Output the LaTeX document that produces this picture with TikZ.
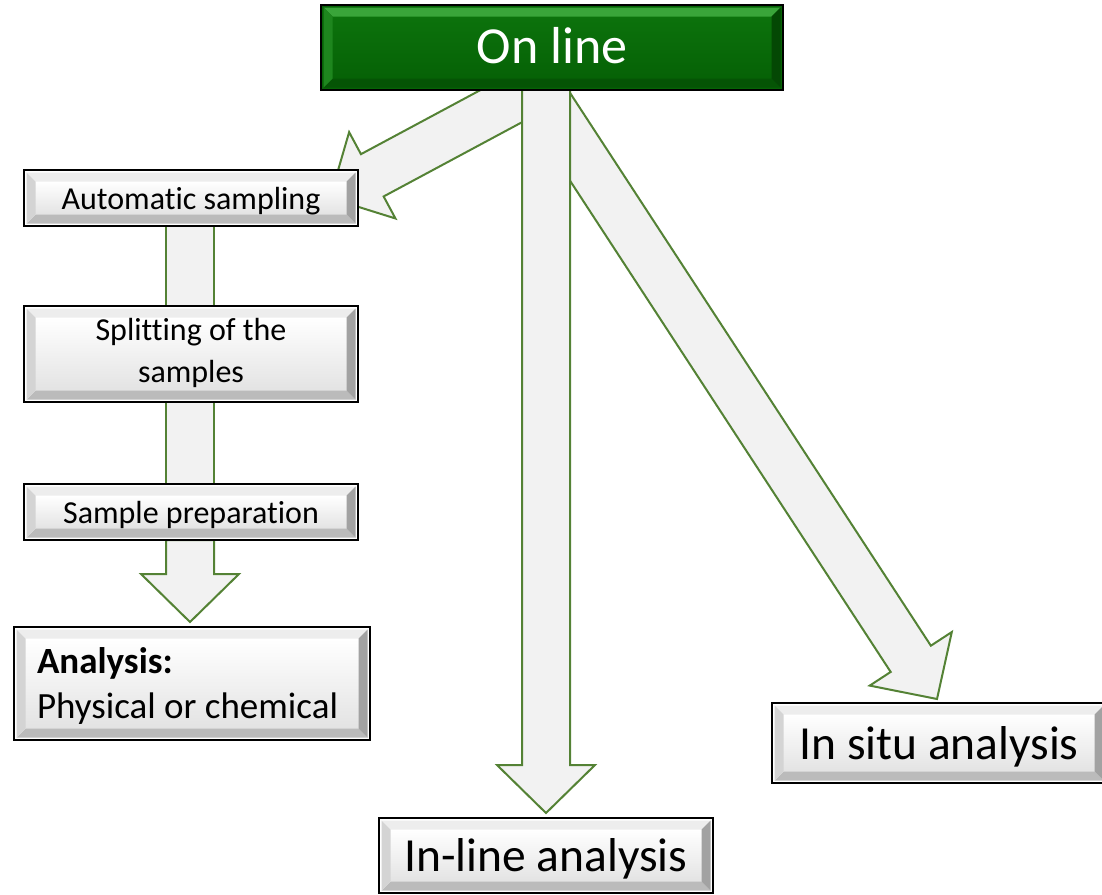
\documentclass[tikz,border=0pt]{standalone}
\usepackage{fontspec}
\setmainfont{Carlito}[Ligatures=NoCommon]
\usetikzlibrary{calc,backgrounds}

\definecolor{arrowfill}{HTML}{F2F2F2}
\definecolor{arrowline}{HTML}{548235}
\definecolor{gface1}{HTML}{0C720C}
\definecolor{gface2}{HTML}{066206}
\definecolor{gtop}{HTML}{3AA53A}
\definecolor{gleft}{HTML}{1E861E}
\definecolor{gright}{HTML}{044804}
\definecolor{gbottom}{HTML}{055405}
\definecolor{wtop}{HTML}{EDEDED}
\definecolor{wleft}{HTML}{D4D4D4}
\definecolor{wright}{HTML}{A2A2A2}
\definecolor{wbottom}{HTML}{BBBBBB}
\definecolor{wface2}{HTML}{E3E3E3}

% bevelled face drawn inside a box: top, left, right, bottom, face top, face bottom
\newcommand{\bevelfaces}[6]{%
  \coordinate (bA) at ($(path picture bounding box.north west)+(2.5,2.5)$);
  \coordinate (bB) at ($(path picture bounding box.south east)+(-2.5,-2.5)$);
  \coordinate (bC) at ($(bA)+(9,9)$);
  \coordinate (bD) at ($(bB)+(-9,-9)$);
  \shade[top color=#5, bottom color=#6] (bC) rectangle (bD);
  \fill[#1] (bA) -- (bA-|bB) -- (bC-|bD) -- (bC) -- cycle;
  \fill[#4] (bA|-bB) -- (bB) -- (bD) -- (bC|-bD) -- cycle;
  \fill[#2] (bA) -- (bC) -- (bC|-bD) -- (bA|-bB) -- cycle;
  \fill[#3] (bA-|bB) -- (bB) -- (bD) -- (bC-|bD) -- cycle;
}

% block arrow from a tail point to a tip point
\newcommand{\flowarrow}[2]{%
  \coordinate (ha) at ($(#2)!48pt!(#1)$);
  \draw[barrow] ($(#1)!24pt!90:(#2)$) -- ($(ha)!24pt!90:(#2)$)
    -- ($(ha)!49pt!90:(#2)$) -- (#2) -- ($(ha)!49pt!-90:(#2)$)
    -- ($(ha)!24pt!-90:(#2)$) -- ($(#1)!24pt!-90:(#2)$) -- cycle;
}

\tikzset{
  barrow/.style={fill=arrowfill, draw=arrowline, line width=2pt, line join=miter},
  boxbase/.style={draw=black, line width=2pt, inner sep=0pt, outer sep=0pt},
  whitebox/.style={boxbase, fill=white,
    path picture={\bevelfaces{wtop}{wleft}{wright}{wbottom}{white}{wface2}}},
  greenbox/.style={boxbase, fill=gface2, text=white,
    path picture={\bevelfaces{gtop}{gleft}{gright}{gbottom}{gface1}{gface2}}},
  oneline/.style 2 args={text height=#1pt, text depth=#2pt},
  small/.style={font=\fontsize{32}{42}\selectfont},
  large/.style={font=\fontsize{47.5}{56}\selectfont},
}

\begin{document}
\begin{tikzpicture}[x=1pt,y=-1pt]
\useasboundingbox (0,0) rectangle (1102,894);

% boxes
\node[greenbox, oneline={46}{15}, font=\fontsize{52}{60}\selectfont,
  minimum width=462pt, minimum height=85pt]
  (online) at (552,47.5) {On line};
\node[whitebox, small, oneline={30}{8}, minimum width=334pt, minimum height=56pt]
  (auto) at (191,198) {Automatic sampling};
\node[whitebox, small, align=flush center, text width=334pt, text height=22pt, text depth=50pt,
  minimum height=96pt]
  (split) at (191,354) {Splitting of the\\samples};
\node[whitebox, small, oneline={30}{8}, minimum width=334pt, minimum height=56pt]
  (prep) at (191,512) {Sample preparation};
\node[whitebox, font=\fontsize{37}{45}\selectfont, align=flush left, text width=310pt,
  text height=25pt, text depth=46pt, minimum width=356pt, minimum height=113pt]
  (anal) at (192,683.5) {\textbf{Analysis:}\\Physical or chemical};
\node[whitebox, large, oneline={45}{13}, minimum width=334pt, minimum height=80pt]
  (situ) at (939,743) {In situ analysis};
\node[whitebox, large, oneline={45}{13}, minimum width=334pt, minimum height=75pt]
  (inline) at (546,855.5) {In-line analysis};

% connectors behind the boxes
\begin{pgfonlayer}{background}
  \coordinate (lt) at (535,88);
  \coordinate (lp) at ($(auto.east)+(-28,0)$);
  \flowarrow{lt}{lp}
  \coordinate (rt) at (546,100);
  \coordinate (rp) at ($(situ.north)+(-2,-4)$);
  \flowarrow{rt}{rp}
  \coordinate (vt) at ($(online.south)+(-6,-10)$);
  \coordinate (vp) at ($(inline.north)+(0,-5)$);
  \flowarrow{vt}{vp}
  \draw[barrow] ($(auto.south)+(-25,0)$) rectangle ($(split.north)+(23,0)$);
  \draw[barrow] ($(split.south)+(-25,0)$) rectangle ($(prep.north)+(23,0)$);
  \coordinate (pt) at ($(prep.south)+(-1,0)$);
  \coordinate (pp) at ($(prep.south)+(-1,82)$);
  \flowarrow{pt}{pp}
\end{pgfonlayer}
\end{tikzpicture}
\end{document}
